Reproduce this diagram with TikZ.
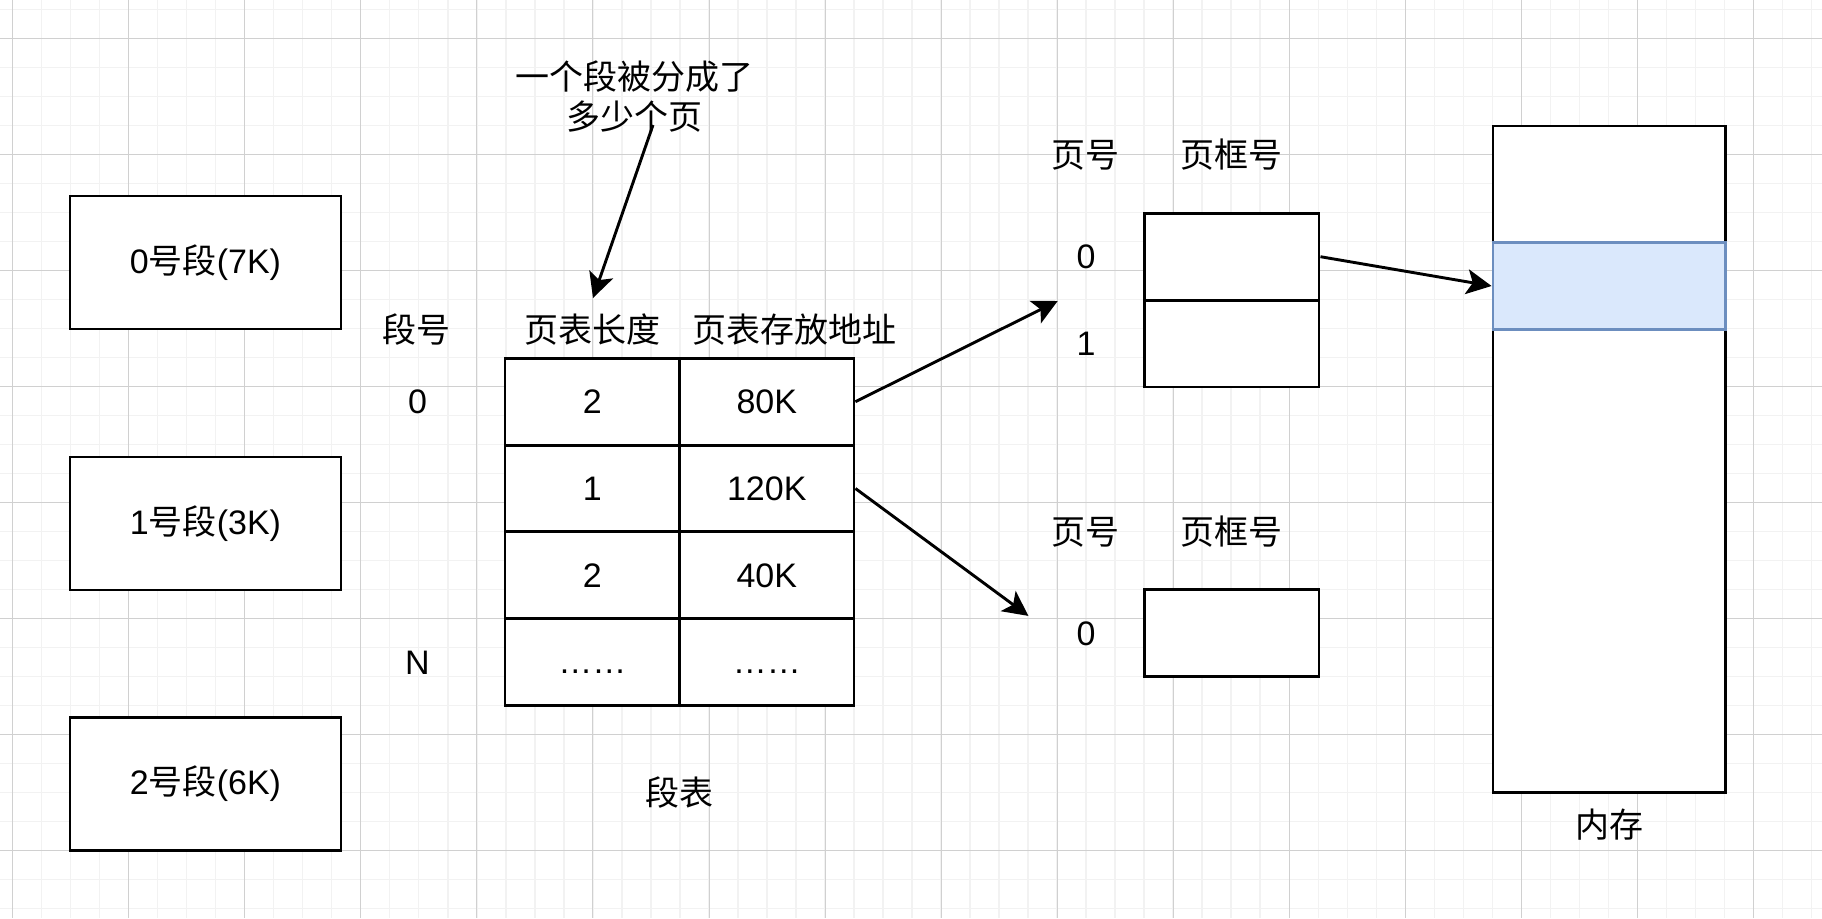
\documentclass[tikz,border=0pt]{standalone}
\usepackage{fontspec}
\setmainfont{Liberation Sans}
\newfontfamily\cjk{Noto Sans CJK SC}
\usetikzlibrary{arrows.meta}
\definecolor{gridminor}{HTML}{F2F2F2}
\definecolor{gridmajor}{HTML}{D0D0D0}
\definecolor{bandfill}{HTML}{DAE8FC}
\definecolor{banddraw}{HTML}{6C8EBF}
\newcommand\labelsize{\fontsize{34}{40}\selectfont}
\tikzset{
  minorline/.style={draw=gridminor, line width=1.3pt},
  majorline/.style={draw=gridmajor, line width=1pt},
  segbox/.style={draw=black, fill=white, line width=2.9pt, minimum width=271pt, minimum height=133pt, inner sep=0pt, font=\labelsize},
  cell/.style={draw=black, fill=white, line width=2.9pt, minimum width=174.5pt, minimum height=86.8pt, inner sep=0pt, font=\labelsize},
  membox/.style={draw=black, fill=white, line width=2.9pt, minimum width=232.6pt, minimum height=666.5pt, inner sep=0pt},
  band/.style={draw=banddraw, fill=bandfill, line width=2.9pt, minimum width=232.6pt, minimum height=86.6pt, inner sep=0pt},
  lbl/.style={font=\labelsize, inner sep=0pt},
  link/.style={draw=black, line width=2.9pt, -{Stealth[length=25pt, width=25pt, inset=6pt]}}
}
\begin{document}
\begin{tikzpicture}[x=1pt, y=-1pt]
\useasboundingbox (0,0) rectangle (1822,918);
\fill[white] (0,0) rectangle (1822,918);
% background grid
\foreach \i in {0,...,62} { \draw[minorline] ({12.7+29.01*\i},0) -- ({12.7+29.01*\i},918); }
\foreach \j in {-1,...,31} { \draw[minorline] (0,{38.3+29.01*\j}) -- (1822,{38.3+29.01*\j}); }
\foreach \i in {0,...,15} { \draw[majorline] ({12.7+116.05*\i},0) -- ({12.7+116.05*\i},918); }
\foreach \j in {0,...,7} { \draw[majorline] (0,{38.3+116.05*\j}) -- (1822,{38.3+116.05*\j}); }

% segments
\node[segbox] (seg0) at (205.5,262.5) {0{\cjk 号段}(7K)};
\node[segbox] (seg1) at (205.5,523.5) {1{\cjk 号段}(3K)};
\node[segbox] (seg2) at (205.5,783.8) {2{\cjk 号段}(6K)};

% segment table
\node[cell] (c11) at (592.25,401.7) {2};
\node[cell] (c12) at (766.75,401.7) {80K};
\node[cell] (c21) at (592.25,488.5) {1};
\node[cell] (c22) at (766.75,488.5) {120K};
\node[cell] (c31) at (592.25,575.3) {2};
\node[cell] (c32) at (766.75,575.3) {40K};
\node[cell] (c41) at (592.25,662.1) {\vphantom{0}……};
\node[cell] (c42) at (766.75,662.1) {\vphantom{0}……};

\node[lbl] (hseg) at (416.6,330) {\cjk 段号};
\node[lbl] (hlen) at (592,330) {\cjk 页表长度};
\node[lbl] (haddr) at (794,330) {\cjk 页表存放地址};
\node[lbl] (r0) at (417.5,401.7) {0};
\node[lbl] (rN) at (417.5,663) {N};
\node[lbl] (segtab) at (679.3,793) {\cjk 段表};

% note on page table length
\node[lbl, align=center] (note) at (634.5,96.7) {{\cjk 一个段被分成了}\\{\cjk 多少个页}};

% page table of segment 0
\node[lbl] (pa) at (1085.6,155) {\cjk 页号};
\node[lbl] (pb) at (1231.5,155) {\cjk 页框号};
\node[cell] (p00) at (1231.75,256.7) {};
\node[cell] (p01) at (1231.75,343.6) {};
\node[lbl] (pn0) at (1086,256.7) {0};
\node[lbl] (pn1) at (1086,343.6) {1};

% page table of segment 1
\node[lbl] (qa) at (1085.6,532) {\cjk 页号};
\node[lbl] (qb) at (1231.5,532) {\cjk 页框号};
\node[cell] (q00) at (1231.75,633.3) {};
\node[lbl] (qn0) at (1086,633.3) {0};

% main memory
\node[membox] (mem) at (1609.3,459.25) {};
\node[band] (frame) at (1609.3,286) {};
\node[lbl] (memlbl) at (1609.3,825) {\cjk 内存};

% connectors
\coordinate (noteend) at (653,125);
\coordinate (lentip) at (593,298);
\coordinate (pt0tip) at (1057.7,301);
\coordinate (pt1tip) at (1028.4,615.9);
\draw[link] (noteend) -- (lentip);
\draw[link] (c12.east) -- (pt0tip);
\draw[link] (c22.east) -- (pt1tip);
\draw[link] (p00.east) -- (frame.west);
\end{tikzpicture}
\end{document}
